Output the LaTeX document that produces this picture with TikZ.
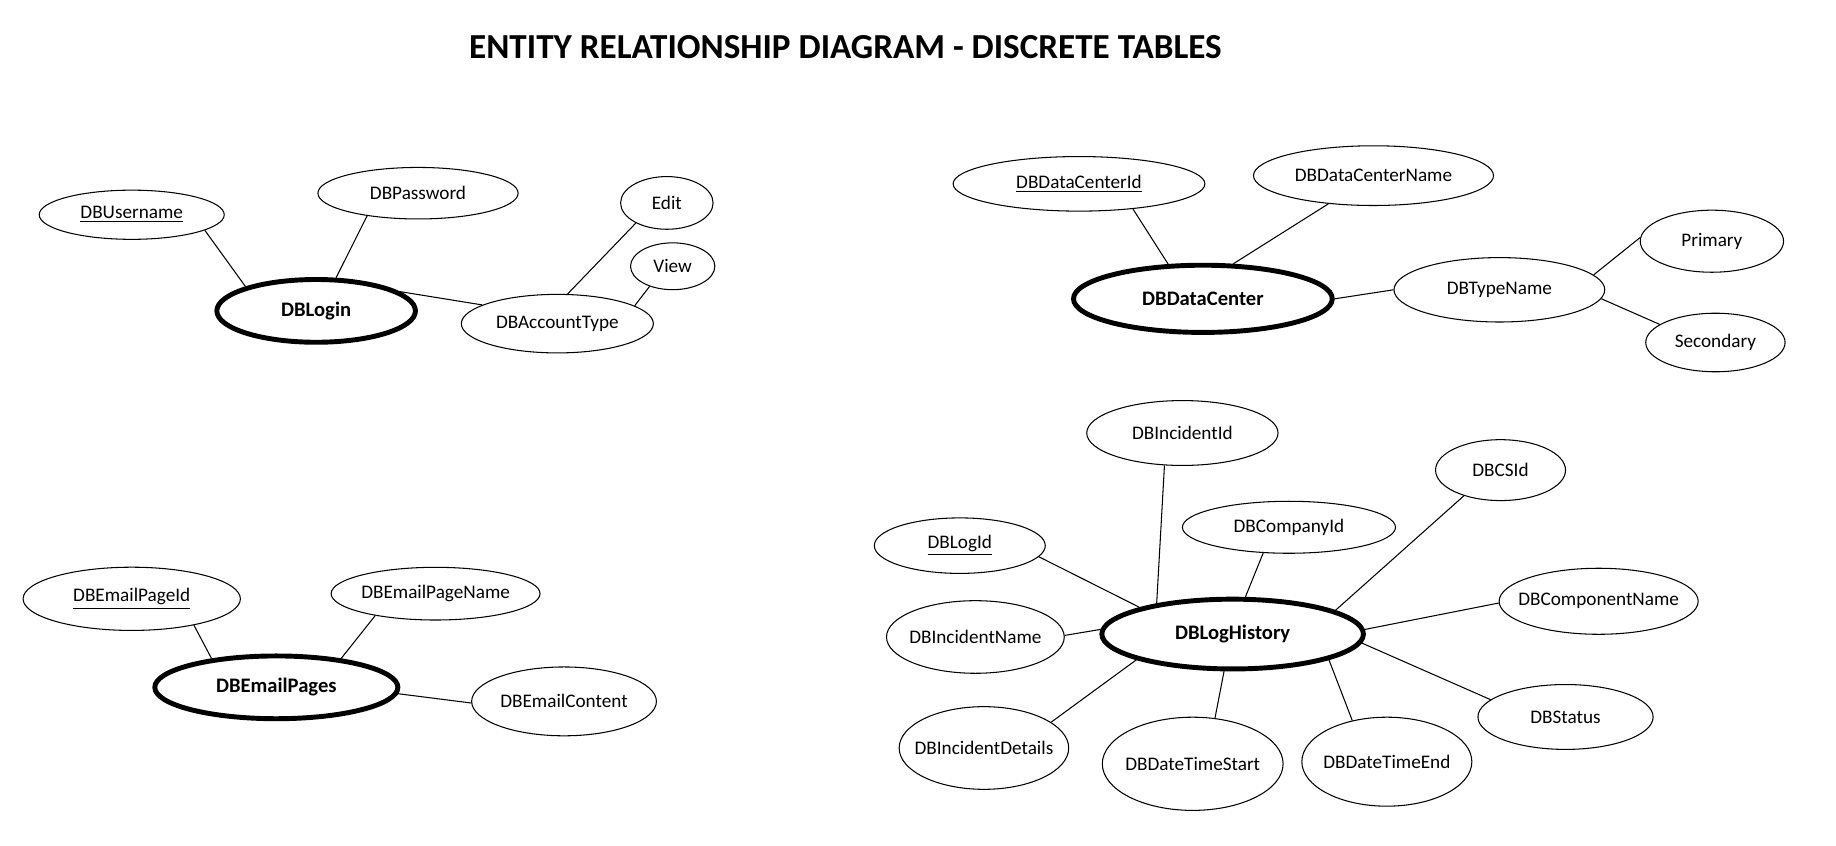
\documentclass[tikz,border=0pt]{standalone}
\usepackage{fontspec}
\setmainfont{Carlito}
\usetikzlibrary{shapes.geometric}
\tikzset{
  attr/.style={draw, ellipse, line width=0.45pt, inner sep=0pt, font=\fontsize{8.2}{10}\selectfont},
  entity/.style={draw, ellipse, line width=2.1pt, inner sep=0pt, font=\fontsize{8.8}{10}\selectfont\bfseries},
  link/.style={line width=0.45pt},
  titletext/.style={font=\fontsize{15}{18}\selectfont\bfseries, inner sep=0pt}
}
\begin{document}
\begin{tikzpicture}[x=0.5pt,y=-0.5pt]
\useasboundingbox (0,0) rectangle (1568,722);
\node[titletext] (title) at (722,40) {ENTITY RELATIONSHIP DIAGRAM - DISCRETE TABLES};

% DBLogin
\node[attr, minimum width=79pt, minimum height=21pt] (un) at (112.5,183.4) {\makebox[0pt]{\underline{DBUsername}}};
\node[attr, minimum width=85.5pt, minimum height=22pt] (pw) at (357,165) {\makebox[0pt]{DBPassword}};
\node[attr, minimum width=39.5pt, minimum height=22.5pt] (edit) at (569.5,173.3) {\makebox[0pt]{Edit}};
\node[attr, minimum width=36pt, minimum height=20pt] (view) at (574.5,227.4) {\makebox[0pt]{View}};
\node[entity, minimum width=84.8pt, minimum height=26.8pt] (login) at (270,265.5) {\makebox[0pt]{DBLogin}};
\node[attr, minimum width=82pt, minimum height=25pt] (acct) at (476,276.4) {\makebox[0pt]{DBAccountType}};
\draw[link] (un.-12.6) -- (login.161.2);
\draw[link] (pw.204.4) -- (login.59.2);
\draw[link] (login.13) -- (acct.166.3);
\draw[link] (acct.71.5) -- (edit.213.5);
\draw[link] (acct.13.4) -- (view.221.7);

% DBDataCenter
\node[attr, minimum width=107.5pt, minimum height=23.3pt] (dcid) at (921.5,157) {\makebox[0pt]{\underline{DBDataCenterId}}};
\node[attr, minimum width=102.5pt, minimum height=25.5pt] (dcname) at (1173,150) {\makebox[0pt]{DBDataCenterName}};
\node[entity, minimum width=110.5pt, minimum height=28.7pt] (dc) at (1027.3,255.2) {\makebox[0pt]{DBDataCenter}};
\node[attr, minimum width=90pt, minimum height=27.5pt] (tn) at (1280.5,247.5) {\makebox[0pt]{DBTypeName}};
\node[attr, minimum width=61.2pt, minimum height=26.5pt] (prim) at (1462,206) {\makebox[0pt]{Primary}};
\node[attr, minimum width=59.5pt, minimum height=25pt] (sec) at (1465,292.5) {\makebox[0pt]{Secondary}};
\draw[link] (dcid.-25.3) -- (dc.135.8);
\draw[link] (dcname.212.7) -- (dc.49.4);
\draw[link] (dc.0.9) -- (tn.180.4);
\draw[link] (tn.9.9) -- (prim.177.7);
\draw[link] (tn.-5.2) -- (sec.162.3);

% DBEmailPages
\node[attr, minimum width=92.8pt, minimum height=27pt] (epid) at (112.5,511.4) {\makebox[0pt]{\underline{DBEmailPageId}}};
\node[attr, minimum width=89.2pt, minimum height=22.5pt] (epname) at (372,507) {\makebox[0pt]{DBEmailPageName}};
\node[entity, minimum width=103.8pt, minimum height=26.8pt] (ep) at (236,587) {\makebox[0pt]{DBEmailPages}};
\node[attr, minimum width=78.9pt, minimum height=29.4pt] (econt) at (481.7,599) {\makebox[0pt]{DBEmailContent}};
\draw[link] (epid.-23.1) -- (ep.156.1);
\draw[link] (epname.200.2) -- (ep.24.7);
\draw[link] (ep.-3.5) -- (econt.181.2);

% DBLogHistory
\node[attr, minimum width=81.7pt, minimum height=27.7pt] (iid) at (1009.8,369.8) {\makebox[0pt]{DBIncidentId}};
\node[attr, minimum width=55.5pt, minimum height=26pt] (csid) at (1281.5,401.5) {\makebox[0pt]{DBCSId}};
\node[attr, minimum width=73pt, minimum height=23.7pt] (logid) at (819.7,466) {\makebox[0pt]{\underline{DBLogId}}};
\node[attr, minimum width=91pt, minimum height=22.2pt] (compid) at (1100.8,450.3) {\makebox[0pt]{DBCompanyId}};
\node[attr, minimum width=85pt, minimum height=28.2pt] (compname) at (1365.3,513.5) {\makebox[0pt]{DBComponentName}};
\node[attr, minimum width=75.9pt, minimum height=31pt] (iname) at (833,544) {\makebox[0pt]{DBIncidentName}};
\node[entity, minimum width=111.7pt, minimum height=29.8pt] (lh) at (1052.7,541.5) {\makebox[0pt]{DBLogHistory}};
\node[attr, minimum width=74.8pt, minimum height=27.7pt] (status) at (1337,612.3) {\makebox[0pt]{DBStatus}};
\node[attr, minimum width=72.4pt, minimum height=35.3pt] (idet) at (840.3,638.8) {\makebox[0pt]{DBIncidentDetails}};
\node[attr, minimum width=77.2pt, minimum height=39.8pt] (dts) at (1018.6,652.3) {\makebox[0pt]{DBDateTimeStart}};
\node[attr, minimum width=72.6pt, minimum height=38pt] (dte) at (1184.4,650.5) {\makebox[0pt]{DBDateTimeEnd}};
\draw[link] (iid.241.2) -- (lh.158.1);
\draw[link] (logid.-8) -- (lh.164.9);
\draw[link] (compid.225.8) -- (lh.71.8);
\draw[link] (csid.215) -- (lh.13.7);
\draw[link] (compname.181.5) -- (lh.2.2);
\draw[link] (iname.1.9) -- (lh.178.6);
\draw[link] (status.167.6) -- (lh.-4.7);
\draw[link] (idet.21.3) -- (lh.195.3);
\draw[link] (dts.64.9) -- (lh.257.5);
\draw[link] (dte.130.9) -- (lh.-15.1);
\end{tikzpicture}
\end{document}
